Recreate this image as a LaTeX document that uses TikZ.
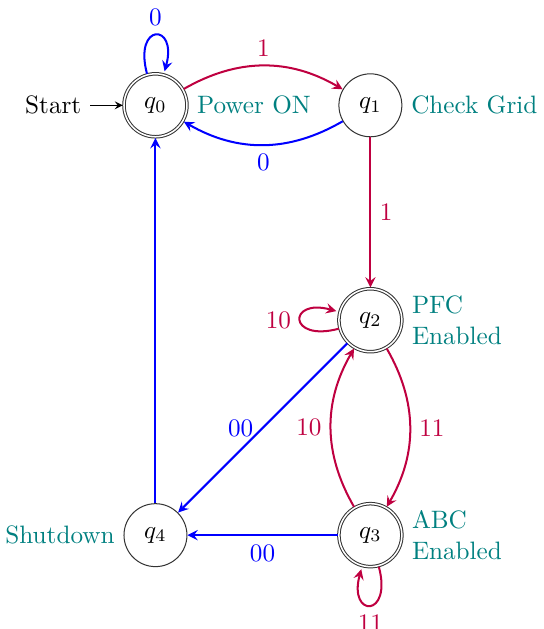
\documentclass[tikz,border=0pt]{standalone}
\usepackage{amsmath}
\usepackage{tikz}
\usetikzlibrary{automata,arrows}

\begin{document}
\begin{tikzpicture}[>=stealth]
    \tikzstyle{every state}=[
        draw = black!80,
        fill = white,
        minimum size = 2.5em,
        circle
    ]
    \tikzstyle{note}=[
        text = teal,
        align = left
    ]
    \tikzstyle{red edge}=[->, thick, draw = purple, text = purple]
    \tikzstyle{blue edge}=[->, thick, draw = blue, text = blue]

    \useasboundingbox (-2.17, 1.47) rectangle (5.41, -7.31);

	\node[state, initial, initial text=Start, accepting] (q0) at (0, 0)   {$q_0$};
	\node[state]                     (q1) at (3, 0)   {$q_1$};
	\node[state, accepting]          (q2) at (3, -3)  {$q_2$};
	\node[state, accepting]          (q3) at (3, -6)  {$q_3$};
	\node[state]                     (q4) at (0, -6)  {$q_4$};

	\node[note, right] (n0) at (q0.east) {Power ON};
	\node[note, right] (n1) at (q1.east) {Check Grid};
	\node[note, right] (n2) at (q2.east) {PFC\\Enabled};
	\node[note, right] (n3) at (q3.east) {ABC\\Enabled};
	\node[note, left]  (n4) at (q4.west) {Shutdown};

	\path (q0) edge [blue edge, loop above] node[above]{0} (q0);
	\path (q0) edge [red edge, bend left] node[above]{1} (q1);
	\path (q1) edge [blue edge, bend left] node[below]{0} (q0);
	\path (q1) edge [red edge] node[right]{1} (q2);
	\path (q2) edge [red edge, loop left] node[left]{10} (q2);
	\path (q2) edge [red edge, bend left] node[right]{11} (q3);
	\path (q3) edge [red edge, bend left] node[left]{10} (q2);
	\path (q3) edge [red edge, loop below] node[below]{11} (q3);
	\path (q2) edge [blue edge] node[left]{00} (q4);
	\path (q3) edge [blue edge] node[below]{00} (q4);
	\path (q4) edge [blue edge] (q0);

	\end{tikzpicture}
\end{document}
